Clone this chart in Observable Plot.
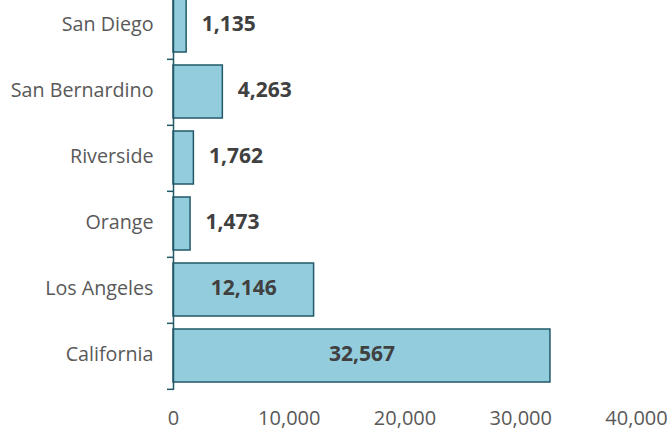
<!DOCTYPE html>
<html>
<head>
<meta charset="utf-8">
<script src="https://cdn.jsdelivr.net/npm/d3@7"></script>
<script src="https://cdn.jsdelivr.net/npm/@observablehq/plot@0.6"></script>
<style>
  html, body { margin: 0; padding: 0; background: white; }
  #chart { width: 669px; height: 432px; overflow: hidden; }
</style>
</head>
<body>
<div id="chart"></div>
<script>
const categories = ["San Diego", "San Bernardino", "Riverside", "Orange", "Los Angeles", "California"];
const values = [1135, 4263, 1762, 1473, 12146, 32567];
const xTicks = [0, 10000, 20000, 30000, 40000];

const data = categories.map((c, i) => ({category: c, value: values[i]}));
const fmt = d3.format(",");
const insideThreshold = 10000;
const font = "'Open Sans', sans-serif";

const chart = Plot.plot({
  width: 669,
  height: 432,
  marginLeft: 173,
  marginRight: 33,
  marginTop: 0,
  marginBottom: 42,
  style: {fontFamily: font, background: "white", overflow: "hidden"},
  x: {domain: [0, 40000], ticks: xTicks},
  y: {domain: categories, range: [-10, 390], paddingInner: 0.2, paddingOuter: 0.1},
  marks: [
    Plot.barX(data, {y: "category", x: "value", fill: "#93CDDD", stroke: "#215968", strokeWidth: 1.5}),
    Plot.ruleX([0], {stroke: "#215968", strokeWidth: 1.5}),
    Plot.axisX({ticks: xTicks, tickSize: 0, tickPadding: 20, tickFormat: fmt, fontSize: 20, fill: "#595959", label: null}),
    Plot.axisY({tickSize: 0, tickPadding: 20, fontSize: 19.7, fill: "#595959", dy: -1.5, label: null}),
    Plot.axisY({tickSize: 6, text: null, dy: 33.33, stroke: "#215968", strokeWidth: 1.5, label: null}),
    Plot.text(data.filter(d => d.value < insideThreshold), {y: "category", x: "value", text: d => fmt(d.value), dx: 15, dy: -1.5, textAnchor: "start", fontSize: 21, fontWeight: "bold", fill: "#404040"}),
    Plot.text(data.filter(d => d.value >= insideThreshold), {y: "category", x: d => d.value / 2, text: d => fmt(d.value), dy: -1.5, textAnchor: "middle", fontSize: 21, fontWeight: "bold", fill: "#404040"})
  ]
});
document.getElementById("chart").appendChild(chart);
</script>
</body>
</html>
